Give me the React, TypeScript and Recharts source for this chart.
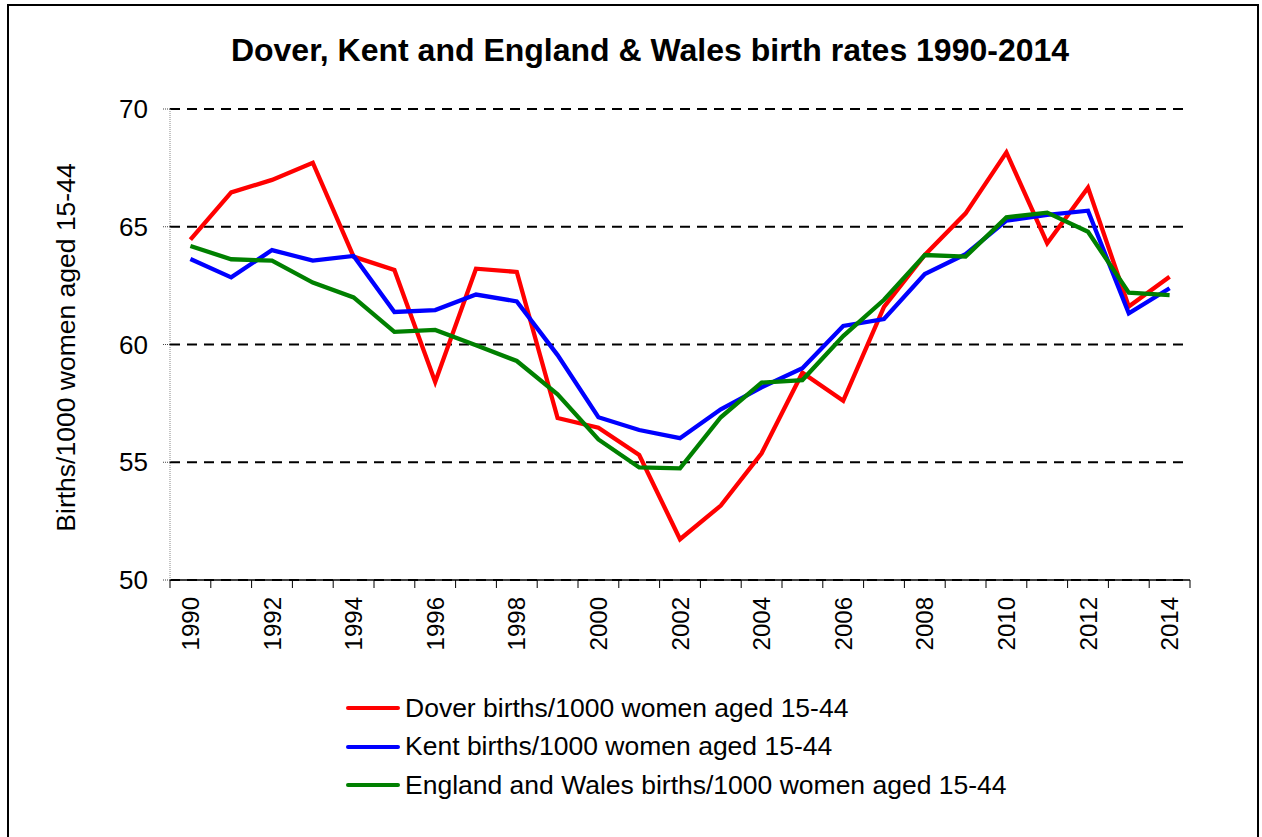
import React from 'react';
import { LineChart, Line, XAxis, YAxis, CartesianGrid } from 'recharts';

const years = [1990, 1991, 1992, 1993, 1994, 1995, 1996, 1997, 1998, 1999, 2000, 2001, 2002, 2003, 2004, 2005, 2006, 2007, 2008, 2009, 2010, 2011, 2012, 2013, 2014];
const dover = [64.45, 66.46, 66.99, 67.72, 63.73, 63.16, 58.41, 63.22, 63.08, 56.88, 56.47, 55.31, 51.73, 53.16, 55.38, 58.8, 57.61, 61.6, 63.8, 65.57, 68.16, 64.3, 66.66, 61.61, 62.88];
const kent = [63.63, 62.85, 64.01, 63.56, 63.76, 61.38, 61.46, 62.12, 61.83, 59.55, 56.91, 56.37, 56.02, 57.25, 58.18, 58.99, 60.79, 61.08, 62.99, 63.84, 65.26, 65.5, 65.68, 61.32, 62.39];
const englandWales = [64.18, 63.62, 63.56, 62.63, 62.0, 60.54, 60.62, 59.97, 59.3, 57.88, 55.97, 54.78, 54.74, 56.91, 58.38, 58.49, 60.36, 61.9, 63.8, 63.73, 65.4, 65.6, 64.79, 62.2, 62.1];
const yTicks = [50, 55, 60, 65, 70];
const seriesKeys = ['dover', 'kent', 'ew'];
const seriesNames = [
  'Dover births/1000 women aged 15-44',
  'Kent births/1000 women aged 15-44',
  'England and Wales births/1000 women aged 15-44',
];
const seriesColors = ['#FF0000', '#0000FF', '#008000'];
const title = 'Dover, Kent and England & Wales birth rates 1990-2014';
const yLabel = 'Births/1000 women aged 15-44';

const data = years.map((y, i) => ({
  year: String(y),
  dover: dover[i],
  kent: kent[i],
  ew: englandWales[i],
}));

const FONT = '"Liberation Sans", Arial, sans-serif';

const XTick = (props: any) => {
  const { x, y, payload, index } = props;
  const half = payload && payload.offset ? payload.offset : 20.4;
  const yr = Number(payload.value);
  const isLast = index === years.length - 1;
  return (
    <g>
      <line x1={x - half} x2={x - half} y1={y} y2={y + 8} stroke="#000" strokeWidth={1} />
      {isLast && <line x1={x + half} x2={x + half} y1={y} y2={y + 8} stroke="#000" strokeWidth={1} />}
      {yr % 2 === 0 && (
        <text
          x={x}
          y={y + 17}
          transform={`rotate(-90, ${x}, ${y + 17})`}
          textAnchor="end"
          dominantBaseline="central"
          fontSize={24}
          fontFamily={FONT}
          fill="#000"
        >
          {payload.value}
        </text>
      )}
    </g>
  );
};

export default function App() {
  return (
    <div style={{ position: 'absolute', left: 0, top: 0, width: 1262, height: 837, background: '#fff', overflow: 'hidden', fontFamily: FONT }}>
      <div style={{ position: 'absolute', left: 7, top: 4, width: 1248, height: 860, border: '2px solid #000' }} />
      <div style={{ position: 'absolute', left: 0, width: 1300, top: 32, lineHeight: 1.15, textAlign: 'center', fontSize: 32, fontWeight: 'bold', color: '#000', whiteSpace: 'nowrap' }}>
        {title}
      </div>
      <div style={{ position: 'absolute', left: 0, top: 0 }}>
        <LineChart width={1262} height={837} data={data} margin={{ top: 109, right: 72, bottom: 0, left: 0 }}>
          <CartesianGrid horizontal vertical={false} stroke="#000" strokeWidth={2} strokeDasharray="10 7" />
          <XAxis
            dataKey="year"
            scale="band"
            interval={0}
            tickSize={0}
            tickMargin={0}
            tickLine={false}
            height={257}
            axisLine={{ stroke: '#000', strokeWidth: 1.5 }}
            tick={<XTick />}
          />
          <YAxis
            domain={[50, 70]}
            ticks={yTicks}
            width={170}
            tickSize={7}
            tickMargin={15}
            interval={0}
            axisLine={{ stroke: '#888', strokeDasharray: '1 1' }}
            tickLine={{ stroke: '#444', strokeDasharray: '1 1' }}
            tick={{ fontSize: 26, fill: '#000', fontFamily: FONT }}
            label={{ value: yLabel, angle: -90, position: 'center', dx: -19, dy: 3, style: { fontSize: 26.5, fill: '#000', fontFamily: FONT } }}
          />
          {seriesKeys.map((k, i) => (
            <Line
              key={k}
              dataKey={k}
              name={seriesNames[i]}
              stroke={seriesColors[i]}
              strokeWidth={4.3}
              dot={false}
              type="linear"
              isAnimationActive={false}
            />
          ))}
        </LineChart>
      </div>
      {seriesNames.map((n, i) => (
        <div key={n} style={{ position: 'absolute', left: 346, top: 708 + i * 38.5 - 17, height: 34, display: 'flex', alignItems: 'center' }}>
          <div style={{ width: 54, height: 4, background: seriesColors[i], borderRadius: 2 }} />
          <div style={{ marginLeft: 5, fontSize: 26.5, color: '#000', whiteSpace: 'nowrap' }}>{n}</div>
        </div>
      ))}
    </div>
  );
}
